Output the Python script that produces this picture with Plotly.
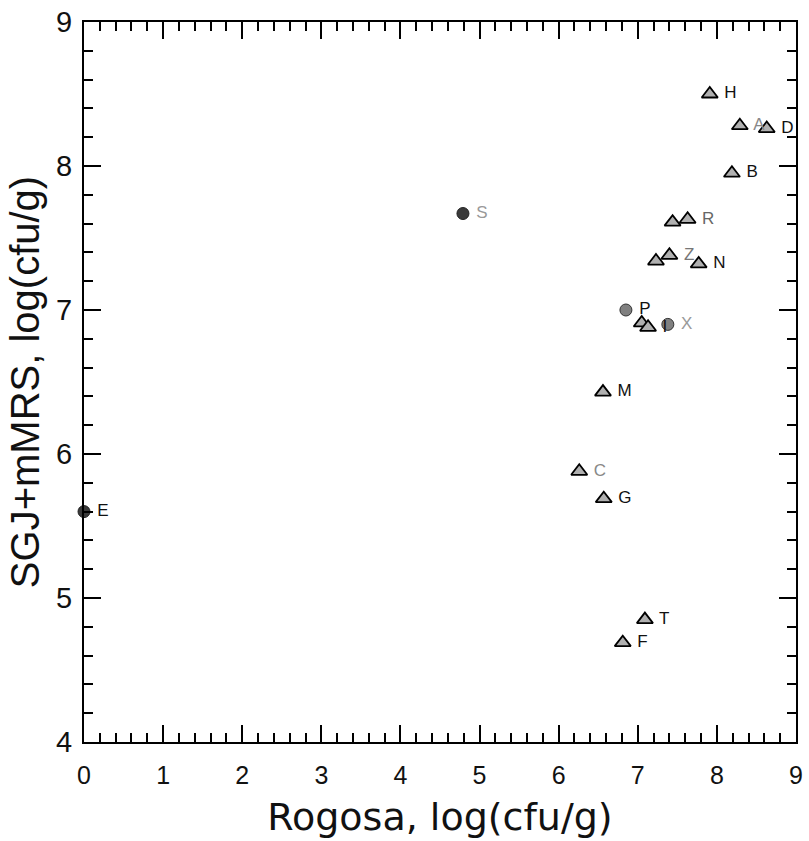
import plotly.graph_objects as go

# Triangles (group 1)
tri_labels = ["H", "A", "D", "B", "", "R", "", "Z", "N", "", "I", "M", "C", "G", "T", "F"]
tri_x = [7.91, 8.29, 8.63, 8.19, 7.44, 7.63, 7.23, 7.40, 7.77, 7.05, 7.13, 6.56, 6.26, 6.57, 7.09, 6.81]
tri_y = [8.50, 8.28, 8.26, 7.95, 7.61, 7.63, 7.34, 7.38, 7.32, 6.91, 6.88, 6.43, 5.88, 5.69, 4.85, 4.69]
tri_label_colors = ["#111", "#888", "#111", "#111", "#111", "#666", "#111", "#777", "#111",
                    "#111", "#111", "#111", "#888", "#111", "#111", "#111"]

# Dark circles (group 2)
dark_labels = ["S", "E"]
dark_x = [4.79, 0.0]
dark_y = [7.67, 5.60]
dark_label_colors = ["#999", "#111"]

# Medium circles (group 3)
mid_labels = ["P", "X"]
mid_x = [6.85, 7.38]
mid_y = [7.00, 6.90]
mid_label_colors = ["#111", "#999"]

x_ticks = [0, 1, 2, 3, 4, 5, 6, 7, 8, 9]
y_ticks = [4, 5, 6, 7, 8, 9]

LABEL_FONT = "Liberation Sans Narrow, Liberation Sans, Arial"


def pad(labels):
    return [" " + t if t else "" for t in labels]


fig = go.Figure()

fig.add_trace(go.Scatter(
    x=dark_x, y=dark_y, mode="markers+text", text=pad(dark_labels),
    textposition="middle right",
    textfont=dict(family=LABEL_FONT, size=17, color=dark_label_colors),
    marker=dict(symbol="circle", size=12, color="#3a3a3a", line=dict(color="#222", width=1)),
    cliponaxis=False, showlegend=False))

fig.add_trace(go.Scatter(
    x=mid_x, y=mid_y, mode="markers+text", text=pad(mid_labels),
    textposition="middle right",
    textfont=dict(family=LABEL_FONT, size=17, color=mid_label_colors),
    marker=dict(symbol="circle", size=12, color="#808080", line=dict(color="#333", width=1)),
    cliponaxis=False, showlegend=False))

fig.add_trace(go.Scatter(
    x=tri_x, y=tri_y, mode="markers+text", text=pad(tri_labels),
    textposition="middle right",
    textfont=dict(family=LABEL_FONT, size=17, color=tri_label_colors),
    marker=dict(symbol="triangle-up", size=14, color="#b0b0b0", line=dict(color="#000", width=1.8)),
    cliponaxis=False, showlegend=False))

axis_common = dict(
    showgrid=False, zeroline=False, showline=True, linecolor="black", linewidth=2,
    mirror="ticks", ticks="inside", ticklen=17, tickwidth=2, tickcolor="black",
    minor=dict(ticks="inside", ticklen=9, tickwidth=2, tickcolor="black", dtick=0.2),
)

fig.update_xaxes(
    range=[0, 9], tickvals=x_ticks, ticktext=[str(v) for v in x_ticks],
    tickfont=dict(family="Liberation Sans Narrow, Liberation Sans, Arial", size=25, color="#111"),
    ticklabelstandoff=10,
    title=dict(text="Rogosa, log(cfu/g)", standoff=15,
               font=dict(family="DejaVu Sans, Arial", size=38, color="#111")),
    **axis_common)
fig.update_yaxes(
    range=[4, 9], tickvals=y_ticks, ticktext=[str(v) for v in y_ticks],
    tickfont=dict(family="Liberation Sans Narrow, Liberation Sans, Arial", size=29, color="#111"),
    ticklabelstandoff=4,
    title=dict(text="SGJ+mMRS, log(cfu/g)", standoff=4,
               font=dict(family="Liberation Sans Narrow, Liberation Sans, Arial", size=40, color="#111")),
    **axis_common)

fig.update_layout(
    width=809, height=841,
    margin=dict(l=84, r=6, t=22, b=99),
    paper_bgcolor="white", plot_bgcolor="white",
)

fig.write_html("out.html")
